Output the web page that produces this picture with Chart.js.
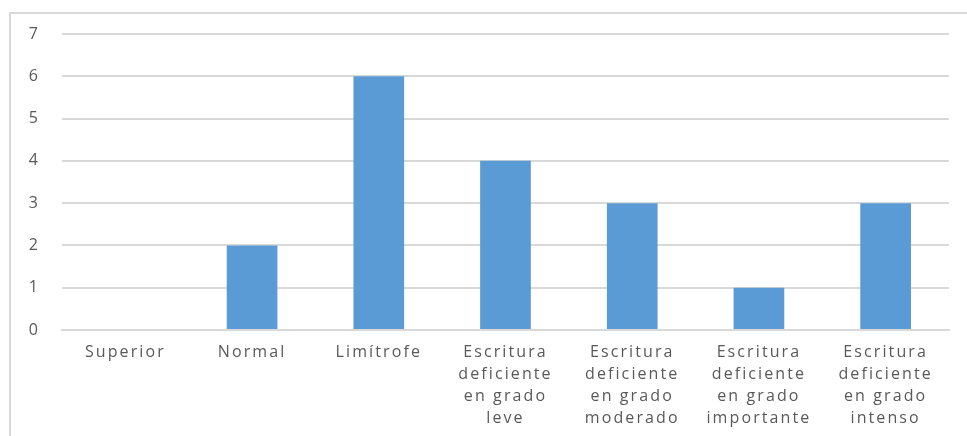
<!DOCTYPE html>
<html>
<head>
<meta charset="utf-8">
<script src="https://cdn.jsdelivr.net/npm/chart.js@4.4.1/dist/chart.umd.min.js"></script>
<style>
  html, body { margin: 0; padding: 0; background: #fff; }
  #wrap { position: relative; width: 967px; height: 436px; overflow: hidden; }
  #frame { position: absolute; left: 9px; top: 12px; right: -5px; bottom: -5px; border: 2px solid #d9d9d9; }
  canvas { position: absolute; left: 0; top: 0; }
</style>
</head>
<body>
<div id="wrap">
  <div id="frame"></div>
  <canvas id="chart" width="967" height="436"></canvas>
</div>
<script>
// Categories and values
const categories = [
  ["Superior"],
  ["Normal"],
  ["Limítrofe"],
  ["Escritura", "deficiente", "en grado", "leve"],
  ["Escritura", "deficiente", "en grado", "moderado"],
  ["Escritura", "deficiente", "en grado", "importante"],
  ["Escritura", "deficiente", "en grado", "intenso"]
];
const counts = [0, 2, 6, 4, 3, 1, 3];
const yTicks = [0, 1, 2, 3, 4, 5, 6, 7];

// the source labels are spaced out wider than normal text;
// the canvas state is reset on resize, so set it right before drawing
const spacing = {
  id: "spacing",
  beforeUpdate: (chart) => { chart.ctx.letterSpacing = "2.1px"; },
  beforeDraw: (chart) => { chart.ctx.letterSpacing = "2.1px"; }
};

const ctx = document.getElementById("chart").getContext("2d");
new Chart(ctx, {
  type: "bar",
  data: {
    labels: categories,
    datasets: [
      {
        data: counts,
        backgroundColor: "#5B9BD5",
        barPercentage: 0.4,
        categoryPercentage: 1
      }
    ]
  },
  options: {
    responsive: false,
    animation: false,
    layout: { padding: { left: 10, right: 18, top: 34, bottom: 0 } },
    plugins: {
      legend: { display: false },
      tooltip: { enabled: false }
    },
    scales: {
      x: {
        grid: { display: false, drawTicks: false },
        border: { display: true, color: "#d9d9d9", width: 2 },
        ticks: {
          color: "#595959",
          font: { family: "Open Sans", size: 16, lineHeight: 1.38 },
          padding: 11,
          maxRotation: 0,
          autoSkip: false
        },
        afterFit: (s) => { s.height = 106; }
      },
      y: {
        min: 0,
        max: 7,
        afterBuildTicks: (s) => { s.ticks = yTicks.map((v) => ({ value: v })); },
        grid: { color: "#d9d9d9", lineWidth: 2, drawTicks: false },
        border: { display: false },
        ticks: {
          color: "#595959",
          font: { family: "Open Sans", size: 16 },
          padding: 22
        },
        afterFit: (s) => { s.width = 52; }
      }
    }
  },
  plugins: [spacing]
});
</script>
</body>
</html>
